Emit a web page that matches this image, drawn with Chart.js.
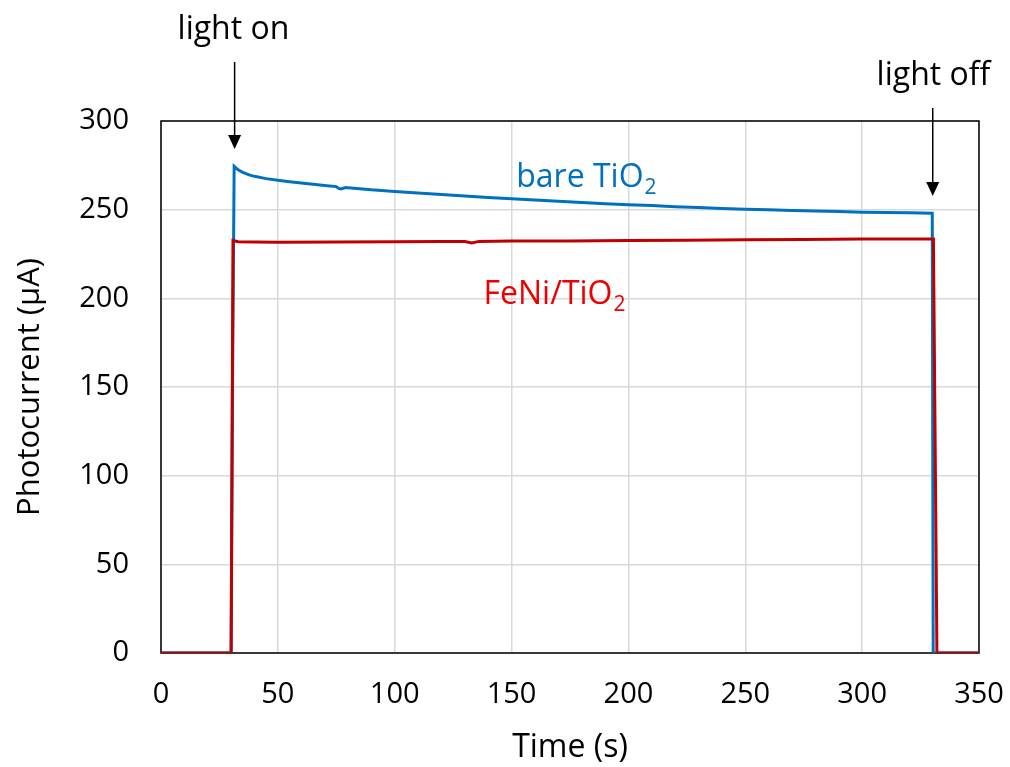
<!DOCTYPE html>
<html lang="en">
<head>
    <meta charset="UTF-8">
    <title>Photocurrent</title>
    <script src="https://cdn.jsdelivr.net/npm/chart.js"></script>
    <style>
        body { margin: 0; background: #fff; }
        #wrap { width: 1010px; height: 767px; }
    </style>
</head>
<body>
<div id="wrap"><canvas id="photoChart" width="1010" height="767"></canvas></div>
<script>
    // time (s) and photocurrent (uA)
    const bareTime = [0, 30, 30.6, 31.3, 33, 35, 38, 40, 45, 50, 55, 60, 65, 70, 75, 76, 77, 79, 80, 90, 100, 110, 120, 130, 140, 150, 160, 170, 180, 190, 200, 210, 220, 230, 240, 250, 260, 270, 280, 290, 300, 310, 320, 330, 330.4, 350];
    const bareCurrent = [0, 0, 150, 274.5, 272.5, 271, 269.5, 268.8, 267.5, 266.6, 265.8, 265, 264.3, 263.6, 263, 262, 261.7, 262.5, 262.4, 261.2, 260.3, 259.4, 258.5, 257.7, 256.9, 256.1, 255.4, 254.7, 254, 253.4, 252.8, 252.3, 251.7, 251.2, 250.7, 250.3, 249.9, 249.5, 249.2, 248.9, 248.6, 248.4, 248.2, 248, 0, 0];

    const feniTime = [0, 30, 30.8, 33, 40, 50, 75, 100, 120, 130, 133, 136, 150, 175, 200, 225, 250, 275, 300, 320, 330.5, 332, 350];
    const feniCurrent = [0, 0, 232.6, 231.9, 231.7, 231.6, 231.8, 231.9, 232, 232, 231.2, 232.1, 232.3, 232.4, 232.6, 232.8, 233, 233.2, 233.4, 233.5, 233.4, 0, 0];

    const xTicks = [0, 50, 100, 150, 200, 250, 300, 350];
    const yTicks = [0, 50, 100, 150, 200, 250, 300];

    function toXY(xs, ys) {
        return xs.map((x, i) => ({ x: x, y: ys[i] }));
    }

    const FONT = '"Open Sans", sans-serif';

    // frame + arrows + text labels
    const decor = {
        id: 'decor',
        beforeDatasetsDraw(chart) {
            const a = chart.chartArea;
            const ctx = chart.ctx;
            ctx.save();
            ctx.strokeStyle = '#000';
            ctx.lineWidth = 1.5;
            ctx.strokeRect(a.left, a.top, a.right - a.left, a.bottom - a.top);
            ctx.restore();
        },
        afterDraw(chart) {
            const ctx = chart.ctx;
            const xs = chart.scales.x, ys = chart.scales.y;

            function arrow(x, y1, y2) {
                ctx.strokeStyle = '#000';
                ctx.fillStyle = '#000';
                ctx.lineWidth = 1.5;
                ctx.beginPath();
                ctx.moveTo(x, y1);
                ctx.lineTo(x, y2 - 12);
                ctx.stroke();
                ctx.beginPath();
                ctx.moveTo(x - 6.5, y2 - 14);
                ctx.lineTo(x + 6.5, y2 - 14);
                ctx.lineTo(x, y2);
                ctx.closePath();
                ctx.fill();
            }

            function subText(txt, sub, x, y, color) {
                ctx.fillStyle = color;
                ctx.textAlign = 'left';
                ctx.textBaseline = 'alphabetic';
                ctx.font = '32px ' + FONT;
                ctx.fillText(txt, x, y);
                const w = ctx.measureText(txt).width;
                ctx.font = '21px ' + FONT;
                ctx.fillText(sub, x + w + 1, y + 7);
            }

            ctx.save();
            ctx.fillStyle = '#000';
            ctx.font = '32px ' + FONT;
            ctx.textAlign = 'center';
            ctx.textBaseline = 'middle';
            ctx.fillText('light on', xs.getPixelForValue(31), 30);
            ctx.fillText('light off', xs.getPixelForValue(330.5), 76);

            arrow(xs.getPixelForValue(31.5), 62, 149);
            arrow(xs.getPixelForValue(330.2), 108, 196);

            subText('bare TiO', '2', xs.getPixelForValue(152), ys.getPixelForValue(263), '#0070C0');
            subText('FeNi/TiO', '2', xs.getPixelForValue(138), ys.getPixelForValue(197), '#EE0000');
            ctx.restore();
        }
    };

    new Chart(document.getElementById('photoChart'), {
        type: 'line',
        data: {
            datasets: [
                {
                    label: 'FeNi/TiO2',
                    data: toXY(feniTime, feniCurrent),
                    borderColor: '#C00000',
                    borderWidth: 3,
                    pointRadius: 0,
                    tension: 0,
                    order: 1
                },
                {
                    label: 'bare TiO2',
                    data: toXY(bareTime, bareCurrent),
                    borderColor: '#0070C0',
                    borderWidth: 3,
                    pointRadius: 0,
                    tension: 0,
                    order: 2
                }
            ]
        },
        options: {
            responsive: false,
            animation: false,
            layout: { padding: { top: 121, right: 31, left: 0, bottom: 0 } },
            plugins: {
                legend: { display: false },
                tooltip: { enabled: false }
            },
            scales: {
                x: {
                    type: 'linear',
                    min: 0,
                    max: 350,
                    afterBuildTicks: s => { s.ticks = xTicks.map(v => ({ value: v })); },
                    afterFit: s => { s.height = 114; s.paddingRight = 0; s.paddingLeft = 0; },
                    grid: { color: '#d9d9d9', lineWidth: 1.5, drawTicks: false },
                    border: { display: false },
                    ticks: { color: '#000', font: { family: FONT, size: 29 }, padding: 24, maxRotation: 0 },
                    title: { display: true, text: 'Time (s)', color: '#000', font: { family: FONT, size: 32 }, padding: { top: 0, bottom: 0 } }
                },
                y: {
                    min: 0,
                    max: 300,
                    afterBuildTicks: s => { s.ticks = yTicks.map(v => ({ value: v })); },
                    afterFit: s => { s.width = 161; s.paddingTop = 0; s.paddingBottom = 0; },
                    grid: { color: '#d9d9d9', lineWidth: 1.5, drawTicks: false },
                    border: { display: false },
                    ticks: { color: '#000', font: { family: FONT, size: 29 }, padding: 32 },
                    title: { display: true, text: 'Photocurrent (μA)', color: '#000', font: { family: FONT, size: 31 }, padding: { top: 12, bottom: 0 } }
                }
            }
        },
        plugins: [decor]
    });
</script>
</body>
</html>
